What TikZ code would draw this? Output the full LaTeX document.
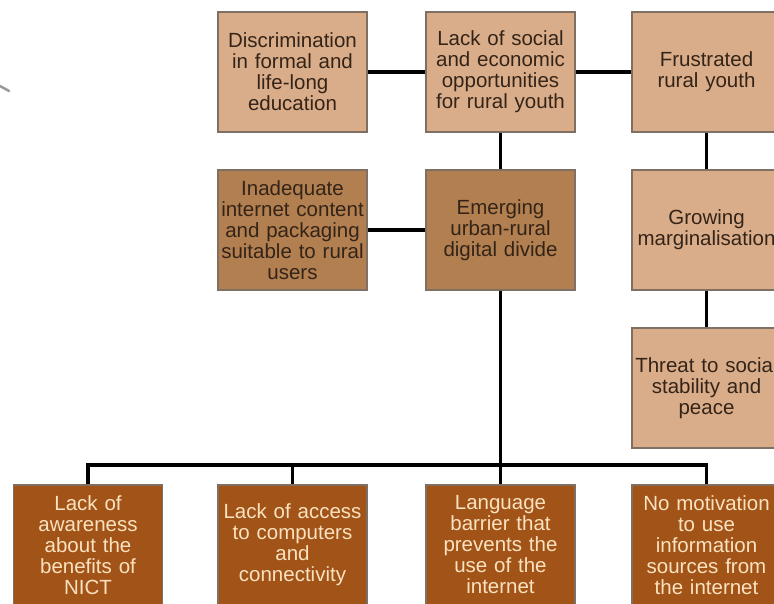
\documentclass[tikz,border=0pt]{standalone}
\usepackage{fontspec}
\setmainfont{Liberation Sans}
\usepackage{tikz}
\usetikzlibrary{calc}

\definecolor{lighttan}{RGB}{218,173,138}
\definecolor{midtan}{RGB}{178,127,80}
\definecolor{rust}{RGB}{162,84,24}
\definecolor{edgegray}{RGB}{128,112,100}
\definecolor{inkbrown}{RGB}{52,36,24}
\definecolor{cream}{RGB}{250,226,192}

\begin{document}
\begin{tikzpicture}[x=1pt,y=-1pt,
    box/.style={draw=edgegray, line width=1.2pt, minimum width=149pt,
      minimum height=120pt, text width=145pt, align=center, inner sep=2pt,
      font=\fontsize{20.5}{21}\selectfont},
    lightbox/.style={box, fill=lighttan, text=inkbrown},
    midbox/.style={box, fill=midtan, text=inkbrown},
    darkbox/.style={box, fill=rust, text=cream},
    link/.style={line width=3.5pt, black}]
  \path[use as bounding box, clip] (0,0) rectangle (774,603);
  \fill[white] (0,0) rectangle (774,603);

  %% stray mark at the left edge
  \draw[gray!80, line width=2.5pt, line cap=round] (0,86) -- (9,91);

  %% Top row
  \node[lightbox] (disc)    at (292.5,72) {Discrimination\\in formal and\\life-long\\education};
  \node[lightbox] (lackopp) at (500.5,72) {Lack of social\\and economic\\opportunities\\for rural youth};
  \node[lightbox] (frust)   at (706.5,72) {Frustrated\\rural youth};

  %% Second row
  \node[midbox]   (inadq)   at (292.5,230) {Inadequate\\internet content\\and packaging\\suitable to rural\\users};
  \node[midbox]   (divide)  at (500.5,230) {Emerging\\urban-rural\\digital divide};
  \node[lightbox] (margin)  at (706.5,230) {Growing\\marginalisation};

  %% Right column
  \node[lightbox] (threat)  at (706.5,388) {Threat to social\\stability and\\peace};

  %% Bottom row
  \node[darkbox] (aware)  at (88,545)    {Lack of\\awareness\\about the\\benefits of\\NICT};
  \node[darkbox] (access) at (292.5,545) {Lack of access\\to computers\\and\\connectivity};
  \node[darkbox] (lang)   at (500.5,545) {Language\\barrier that\\prevents the\\use of the\\internet};
  \node[darkbox] (motiv)  at (706.5,545) {No motivation\\to use\\information\\sources from\\the internet};

  %% Connectors
  \draw[link] (disc) -- (lackopp);
  \draw[link] (lackopp) -- (frust);
  \draw[link] (lackopp) -- (divide);
  \draw[link] (inadq) -- (divide);
  \draw[link] (frust) -- (margin);
  \draw[link] (margin) -- (threat);

  \coordinate (bus) at (500.5,465);
  \draw[link] (divide.south) -- (bus);
  \foreach \n in {aware,access,lang,motiv}
  {
    \draw[link] (\n.north) |- (bus);
  }
\end{tikzpicture}
\end{document}
